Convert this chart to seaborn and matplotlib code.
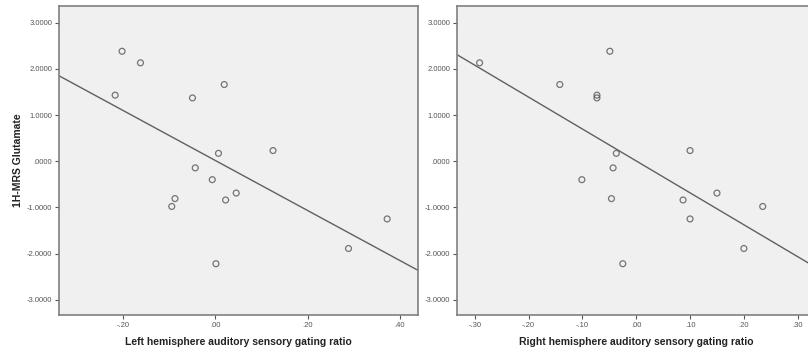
import numpy as np
import pandas as pd
import seaborn as sns
import matplotlib.pyplot as plt
from matplotlib.ticker import FuncFormatter

# glutamate values (same subjects in both panels)
glutamate = [2.38, 2.13, 1.43, 1.37, 1.66, 0.17, 0.23, -0.145,
             -0.40, -0.81, -0.98, -0.84, -0.69, -2.22, -1.89, -1.25]
left_ratio = [-0.203, -0.163, -0.218, -0.050, 0.019, 0.0065, 0.125, -0.044,
              -0.007, -0.088, -0.095, 0.022, 0.045, 0.001, 0.289, 0.373]
right_glu = [2.13, 2.38, 1.66, 1.43, 1.37, 0.17, 0.23, -0.145,
             -0.40, -0.81, -0.84, -0.69, -1.25, -0.98, -1.89, -2.22]
right_ratio = [-0.291, -0.049, -0.142, -0.073, -0.073, -0.037, 0.100, -0.043,
               -0.101, -0.046, 0.087, 0.150, 0.100, 0.235, 0.200, -0.025]

left_xticks = [-0.2, 0.0, 0.2, 0.4]
right_xticks = [-0.3, -0.2, -0.1, 0.0, 0.1, 0.2, 0.3]
yticks = [-3, -2, -1, 0, 1, 2, 3]

left_df = pd.DataFrame({"ratio": left_ratio, "glu": glutamate})
right_df = pd.DataFrame({"ratio": right_ratio, "glu": right_glu})

sns.set_style("white")
plt.rcParams['font.family'] = ['Liberation Sans', 'DejaVu Sans']

fig = plt.figure(figsize=(8.08, 3.56), dpi=100)
ax1 = fig.add_axes([59 / 808, 1 - 315 / 356, 359 / 808, 309 / 356])
ax2 = fig.add_axes([457 / 808, 1 - 315 / 356, 359 / 808, 309 / 356])


def yfmt(v, pos):
    s = "%.4f" % v
    return s.replace("0.", ".", 1) if s.startswith("0.") else s.replace("-0.", "-.", 1)


def xfmt(v, pos):
    s = "%.2f" % v
    if s.startswith("-0."):
        return "-" + s[2:]
    if s.startswith("0."):
        return s[1:]
    return s


for ax, df, xlim, xt in [(ax1, left_df, (-0.34, 0.44), left_xticks),
                         (ax2, right_df, (-0.333, 0.334), right_xticks)]:
    ax.set_facecolor("#f0f0f0")
    # limits first so the fit line (truncate=False) spans the whole axis
    ax.set_xlim(*xlim)
    ax.set_ylim(-3.33, 3.36)
    sns.regplot(data=df, x="ratio", y="glu", ax=ax, ci=None, truncate=False,
                scatter_kws=dict(s=18, facecolors="none", edgecolors="#555555", linewidths=0.9),
                line_kws=dict(color="#606060", lw=1))
    ax.set_xlim(*xlim)
    ax.set_ylim(-3.33, 3.36)
    ax.set_xticks(xt)
    ax.set_yticks(yticks)
    ax.xaxis.set_major_formatter(FuncFormatter(xfmt))
    ax.yaxis.set_major_formatter(FuncFormatter(yfmt))
    ax.tick_params(axis="both", labelsize=5.5, colors="#555555", length=3, width=0.8,
                   direction="out", left=True, bottom=True, pad=2)
    for sp in ax.spines.values():
        sp.set_color("#808080")
        sp.set_linewidth(1.2)
    ax.set_ylabel("")

ax1.set_xlabel("Left hemisphere auditory sensory gating ratio", fontsize=7.5,
               fontweight="bold", color="#222222", labelpad=6)
ax2.set_xlabel("Right hemisphere auditory sensory gating ratio", fontsize=7.5,
               fontweight="bold", color="#222222", labelpad=6)
ax1.set_ylabel("1H-MRS Glutamate", fontsize=7.5, fontweight="bold", color="#222222", labelpad=3)

fig.savefig("out.png", dpi=100, facecolor="white")
